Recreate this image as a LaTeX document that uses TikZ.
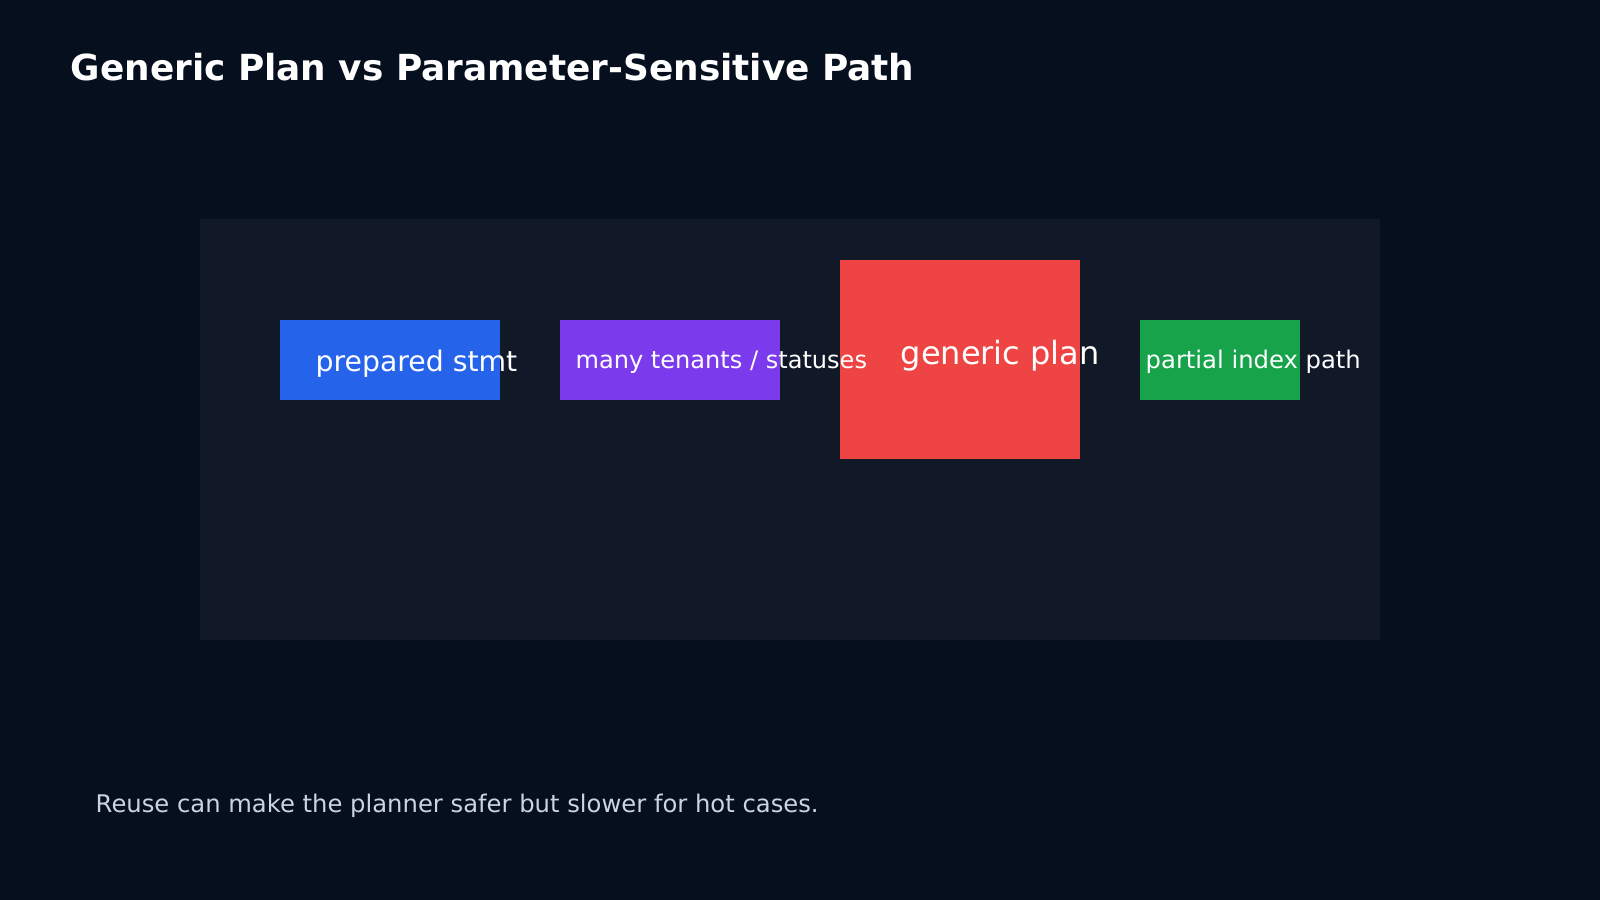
\documentclass[tikz,border=0pt]{standalone}
\usepackage{fontspec}
\setmainfont{DejaVu Sans}
\definecolor{bgdark}{HTML}{060F1E}
\definecolor{panelbg}{HTML}{111827}
\definecolor{stmtblue}{HTML}{2563EB}
\definecolor{tenantpurple}{HTML}{7C3AED}
\definecolor{planred}{HTML}{EF4444}
\definecolor{pathgreen}{HTML}{16A34A}
\definecolor{notegray}{HTML}{CBD5E1}
\tikzset{
  box/.style={draw=none},
  lbl/.style={anchor=west, text=white, inner sep=0pt}
}
\begin{document}
\begin{tikzpicture}[x=0.01cm,y=-0.01cm]
            % background and panel
            \fill [bgdark] (0,0) rectangle (1600,900);
            \useasboundingbox (0,0) rectangle (1600,900);
            \fill [panelbg] (200,219) rectangle (1380,640);
            {
            % Drawing boxes
            \fill [stmtblue] (280,320) rectangle (500,400);
            \fill [tenantpurple] (560,320) rectangle (780,400);
            \fill [planred] (840,260) rectangle (1080,459);
            \fill [pathgreen] (1140,320) rectangle (1300,400);
            
            % Box labels
            \node [lbl, font=\fontsize{8.05pt}{10pt}\selectfont] (stmt) at (315,364) {prepared stmt};
            \node [lbl, font=\fontsize{6.84pt}{8pt}\selectfont] (tenants) at (575,362) {many tenants / statuses};
            \node [lbl, font=\fontsize{9.1pt}{11pt}\selectfont] (plan) at (900,356) {generic plan};
            \node [lbl, font=\fontsize{6.9pt}{8pt}\selectfont] (partial) at (1145,362) {partial index path};
            
            % Title and note
            \node [lbl, font=\bfseries\fontsize{10.2pt}{12pt}\selectfont] (title) at (70,67) {Generic Plan vs Parameter-Sensitive Path};
            \node [lbl, text=notegray, font=\fontsize{6.9pt}{8pt}\selectfont] (note) at (95,806) {Reuse can make the planner safer but slower for hot cases.};
            }
\end{tikzpicture}
\end{document}
